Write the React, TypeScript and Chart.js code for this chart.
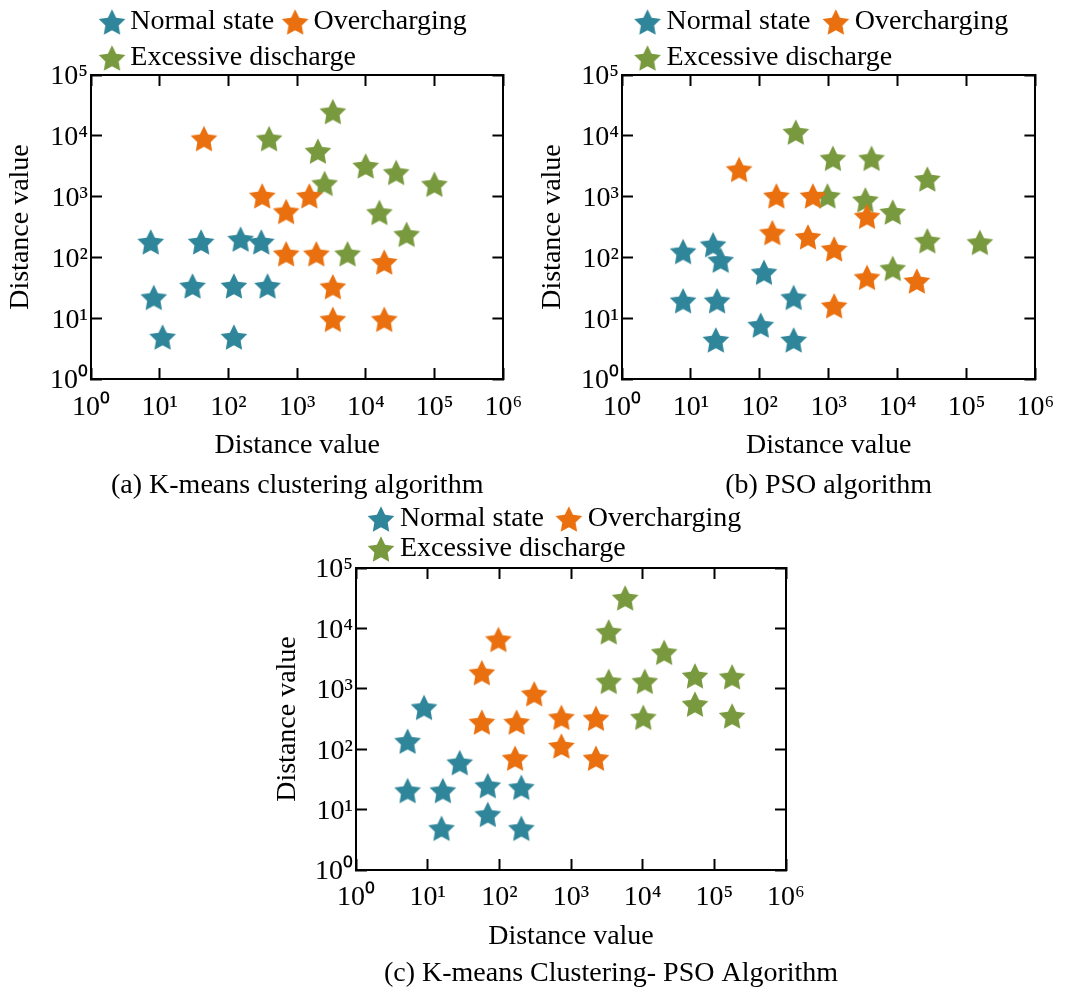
import React, { useEffect, useRef } from 'react';
import { Chart, registerables } from 'chart.js';

Chart.register(...registerables);

// ---------- text ----------
const SERIES_NAMES = ['Normal state', 'Overcharging', 'Excessive discharge'];
const SERIES_COLORS = ['#2F8599', '#EA700F', '#78993D'];
const AXIS_TITLE = 'Distance value';
const CAPTIONS = [
  '(a) K-means clustering algorithm',
  '(b) PSO algorithm',
  '(c) K-means Clustering- PSO Algorithm',
];
const X_TICKS = [1, 10, 100, 1000, 10000, 100000, 1000000];
const Y_TICKS = [1, 10, 100, 1000, 10000, 100000];
const TICK_LABELS = ['10⁰', '10¹', '10²', '10³', '10⁴', '10⁵', '10⁶'];

// ---------- data: (a) K-means ----------
const A_NORMAL_X = [7.4, 40, 150, 300, 8.2, 30, 120, 370, 11, 120];
const A_NORMAL_Y = [180, 180, 200, 180, 22, 34, 34, 34, 4.9, 4.9];
const A_OVER_X = [44, 310, 690, 1500, 690, 1900, 18500, 3300, 3300, 18500];
const A_OVER_Y = [9000, 1030, 570, 1030, 115, 115, 84, 33, 9.6, 9.6];
const A_EXC_X = [3300, 390, 2000, 9900, 27500, 99000, 2500, 15700, 39000, 5400];
const A_EXC_Y = [25000, 9000, 5600, 3200, 2500, 1600, 1650, 550, 240, 115];

// ---------- data: (b) PSO ----------
const B_NORMAL_X = [7.7, 21, 27, 115, 7.7, 24, 310, 103, 23, 310];
const B_NORMAL_Y = [125, 162, 90, 57, 19.4, 19.4, 22, 7.7, 4.4, 4.4];
const B_OVER_X = [50, 174, 590, 152, 500, 1200, 3600, 3600, 19000, 1200];
const B_OVER_Y = [2800, 1030, 1030, 256, 218, 138, 476, 47, 41, 16];
const B_EXC_X = [333, 1150, 4180, 27000, 960, 3400, 8500, 27000, 156000, 8500];
const B_EXC_Y = [11500, 4270, 4270, 1950, 1030, 885, 558, 188, 177, 66];

// ---------- data: (c) K-means + PSO ----------
const C_NORMAL_X = [8.9, 5.25, 28, 5.25, 16.3, 69, 203, 15.6, 69, 203];
const C_NORMAL_Y = [492, 136, 60, 20.7, 20.7, 25, 23.4, 4.9, 8.35, 4.9];
const C_OVER_X = [97, 57, 307, 57, 174, 735, 2230, 735, 166, 2230];
const C_OVER_Y = [6570, 1850, 830, 281, 281, 338, 326, 113, 71, 71];
const C_EXC_X = [5700, 3360, 19950, 3360, 10700, 53700, 177000, 53700, 10200, 177000];
const C_EXC_Y = [32000, 8800, 4020, 1330, 1330, 1640, 1580, 558, 338, 356];

const PANEL_SERIES = [
  [[A_NORMAL_X, A_NORMAL_Y], [A_OVER_X, A_OVER_Y], [A_EXC_X, A_EXC_Y]],
  [[B_NORMAL_X, B_NORMAL_Y], [B_OVER_X, B_OVER_Y], [B_EXC_X, B_EXC_Y]],
  [[C_NORMAL_X, C_NORMAL_Y], [C_OVER_X, C_OVER_Y], [C_EXC_X, C_EXC_Y]],
];

// ---------- layout (styles only) ----------
const FONT = "'Liberation Serif', 'Times New Roman', serif";
const FS = 28;
const LAYOUTS = [
  { left: 0, top: 0, width: 545, height: 502, padTop: 0, yWidth: 91, y2Width: 26, legendMax: 74, x2Height: 1,
    xHeight: 83, xTickPad: 22.7, legendPad: 8, boxW: 17.3, starOff: 4.35, yTitlePad: 3.9,
    captionPadTop: 6.4, captionFull: false },
  { left: 532, top: 0, width: 545, height: 502, padTop: 0, yWidth: 90, y2Width: 28, legendMax: 74, x2Height: 1,
    xHeight: 83, xTickPad: 22.7, legendPad: 8, boxW: 22.5, starOff: 6.25, yTitlePad: 3.7,
    captionPadTop: 6.4, captionFull: false },
  { left: 270, top: 500, width: 682, height: 490, padTop: 3, yWidth: 86, y2Width: 166, legendMax: 64, x2Height: 1,
    xHeight: 83.4, xTickPad: 22.2, legendPad: 2, boxW: 28, starOff: 9, yTitlePad: 0.7,
    captionPadTop: 3, captionFull: true },
];

function starImage(color: string, offsetX: number): HTMLCanvasElement {
  const R = 14;
  const r = R * 0.5;
  const w = Math.ceil(2 * (R + Math.abs(offsetX)) + 4);
  const h = 32;
  const c = document.createElement('canvas');
  c.width = w;
  c.height = h;
  const ctx = c.getContext('2d')!;
  const cx = w / 2 + offsetX;
  const cy = h / 2 + (R * (1 - Math.cos(Math.PI / 5))) / 2;
  ctx.beginPath();
  for (let i = 0; i < 10; i++) {
    const rad = i % 2 === 0 ? R : r;
    const a = -Math.PI / 2 + (i * Math.PI) / 5;
    const px = cx + rad * Math.cos(a);
    const py = cy + rad * Math.sin(a);
    if (i === 0) ctx.moveTo(px, py);
    else ctx.lineTo(px, py);
  }
  ctx.closePath();
  ctx.fillStyle = color;
  ctx.fill();
  return c;
}

const decadeLabel = (v: number | string) => TICK_LABELS[Math.round(Math.log10(Number(v)))] ?? '';

function Panel({ index }: { index: number }) {
  const ref = useRef<HTMLCanvasElement>(null);
  const L = LAYOUTS[index];

  useEffect(() => {
    if (!ref.current) return;
    const pointStars = SERIES_COLORS.map((c) => starImage(c, 0));
    const legendStars = SERIES_COLORS.map((c) => starImage(c, L.starOff));
    const grid = {
      drawOnChartArea: false,
      drawTicks: true,
      tickLength: -11,
      tickWidth: 2,
      color: '#000',
      tickColor: '#000',
    };
    const border = { display: true, color: '#000', width: 2 };
    const tickFont = { size: FS, family: FONT };

    const datasets = PANEL_SERIES[index].map(([xs, ys], i) => ({
      label: SERIES_NAMES[i],
      data: xs.map((x, j) => ({ x, y: ys[j] })),
      pointStyle: pointStars[i],
      backgroundColor: SERIES_COLORS[i],
      borderColor: SERIES_COLORS[i],
      xAxisID: 'x',
      yAxisID: 'y',
    }));

    const chart = new Chart(ref.current, {
      type: 'scatter',
      data: { datasets },
      options: {
        responsive: false,
        animation: false,
        devicePixelRatio: 1,
        events: [],
        layout: { padding: { top: L.padTop, left: 0, right: 0, bottom: 0 } },
        plugins: {
          tooltip: { enabled: false },
          legend: {
            display: true,
            position: 'top',
            align: 'start',
            fullSize: false,
            maxHeight: L.legendMax,
            labels: {
              usePointStyle: true,
              pointStyleWidth: L.boxW,
              padding: L.legendPad,
              color: '#000',
              font: { size: FS, family: FONT },
              generateLabels: (ch: any) => {
                const items = (Chart.defaults.plugins.legend.labels as any).generateLabels(ch);
                items.forEach((it: any, i: number) => {
                  it.pointStyle = legendStars[i];
                });
                return items;
              },
            },
          },
          title: {
            display: true,
            text: CAPTIONS[index],
            position: 'bottom',
            fullSize: L.captionFull,
            color: '#000',
            font: { size: FS, family: FONT, weight: 'normal' },
            padding: { top: L.captionPadTop, bottom: 0 },
          },
        },
        scales: {
          x: {
            type: 'logarithmic',
            position: 'bottom',
            min: 1,
            max: 1000000,
            afterBuildTicks: (s: any) => {
              s.ticks = X_TICKS.map((value) => ({ value }));
            },
            afterFit: (s: any) => {
              s.height = L.xHeight;
            },
            ticks: {
              callback: decadeLabel,
              autoSkip: false,
              maxRotation: 0,
              minRotation: 0,
              padding: L.xTickPad,
              color: '#000',
              font: tickFont,
            },
            grid,
            border,
            title: {
              display: true,
              text: AXIS_TITLE,
              color: '#000',
              font: { size: FS, family: FONT },
              padding: { top: 0, bottom: 0 },
            },
          },
          x2: {
            type: 'logarithmic',
            position: 'top',
            min: 1,
            max: 1000000,
            afterBuildTicks: (s: any) => {
              s.ticks = X_TICKS.map((value) => ({ value }));
            },
            afterFit: (s: any) => {
              s.height = L.x2Height;
            },
            ticks: { display: false },
            grid,
            border,
          },
          y: {
            type: 'logarithmic',
            position: 'left',
            min: 1,
            max: 100000,
            afterBuildTicks: (s: any) => {
              s.ticks = Y_TICKS.map((value) => ({ value }));
            },
            afterFit: (s: any) => {
              s.width = L.yWidth;
            },
            ticks: {
              callback: decadeLabel,
              autoSkip: false,
              padding: 14,
              labelOffset: 2,
              color: '#000',
              font: tickFont,
            },
            grid,
            border,
            title: {
              display: true,
              text: AXIS_TITLE,
              color: '#000',
              font: { size: FS, family: FONT },
              padding: { top: L.yTitlePad, bottom: 0 },
            },
          },
          y2: {
            type: 'logarithmic',
            position: 'right',
            min: 1,
            max: 100000,
            afterBuildTicks: (s: any) => {
              s.ticks = Y_TICKS.map((value) => ({ value }));
            },
            afterFit: (s: any) => {
              s.width = L.y2Width;
            },
            ticks: { display: false },
            grid,
            border,
          },
        },
      } as any,
    });
    return () => chart.destroy();
  }, [index]);

  return (
    <canvas
      ref={ref}
      width={L.width}
      height={L.height}
      style={{ position: 'absolute', left: L.left, top: L.top, width: L.width, height: L.height }}
    />
  );
}

export default function App() {
  return (
    <div
      style={{
        position: 'absolute',
        left: 0,
        top: 0,
        width: 1077,
        height: 991,
        overflow: 'hidden',
        background: '#fff',
      }}
    >
      {LAYOUTS.map((_, i) => (
        <Panel key={i} index={i} />
      ))}
    </div>
  );
}
